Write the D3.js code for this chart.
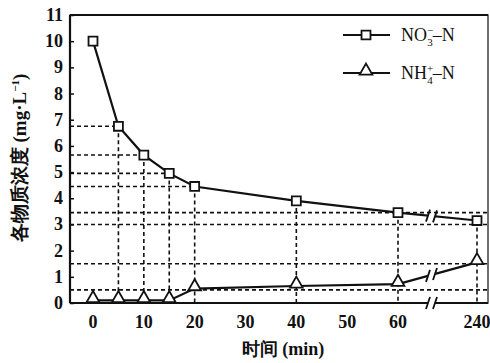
<!DOCTYPE html>
<html>
<head>
<meta charset="utf-8">
<script src="https://cdn.jsdelivr.net/npm/d3@7"></script>
<style>
  body { margin: 0; background: #fff; }
  text { font-family: "Liberation Serif", "DejaVu Serif", serif; fill: #111; }
</style>
</head>
<body>
<div id="main"></div>
<script>
// data
var times = [0, 5, 10, 15, 20, 40, 60, 240];
var no3 = [10.0, 6.75, 5.65, 4.95, 4.45, 3.9, 3.45, 3.15];
var nh4 = [0.1, 0.1, 0.1, 0.1, 0.55, 0.65, 0.72, 1.55];
var xTicks = [0, 10, 20, 30, 40, 50, 60, 240];
var yTicks = [0, 1, 2, 3, 4, 5, 6, 7, 8, 9, 10, 11];
var shortGuideTimes = [5, 10, 15, 20];      // horizontal guide to NO3 point
var fullGuides = [3.45, 3.0, 1.5, 0.5];     // horizontal guides across the plot

var svg = d3.select("#main").append("svg")
  .attr("width", 490)
  .attr("height", 363);

var pLeft = 70, pRight = 488, pTop = 15, pBottom = 303;

// broken x axis: 0..60 linear, then jump to 240
var x = d3.scaleLinear().domain([0, 60, 240]).range([93, 398, 477]);
var y = d3.scaleLinear().domain([0, 11]).range([pBottom, pTop]);

var dash = "4,3";

// horizontal guides
shortGuideTimes.forEach(function(t) {
  var v = no3[times.indexOf(t)];
  svg.append("line")
    .attr("x1", pLeft).attr("x2", x(t))
    .attr("y1", y(v)).attr("y2", y(v))
    .attr("stroke", "#111").attr("stroke-width", 1.6)
    .attr("stroke-dasharray", dash);
});
fullGuides.forEach(function(v) {
  svg.append("line")
    .attr("x1", pLeft).attr("x2", pRight)
    .attr("y1", y(v)).attr("y2", y(v))
    .attr("stroke", "#111").attr("stroke-width", 1.6)
    .attr("stroke-dasharray", dash);
});

// vertical guides from NO3 points down to the axis
times.forEach(function(t, i) {
  if (t === 0) return;
  svg.append("line")
    .attr("x1", x(t)).attr("x2", x(t))
    .attr("y1", y(no3[i])).attr("y2", pBottom)
    .attr("stroke", "#111").attr("stroke-width", 1.6)
    .attr("stroke-dasharray", dash);
});

// frame
svg.append("rect")
  .attr("x", pLeft).attr("y", pTop)
  .attr("width", pRight - pLeft).attr("height", pBottom - pTop)
  .attr("fill", "none").attr("stroke", "#111").attr("stroke-width", 1.2);
svg.append("line")
  .attr("x1", pLeft).attr("x2", pLeft).attr("y1", pTop).attr("y2", pBottom)
  .attr("stroke", "#111").attr("stroke-width", 2.2);
svg.append("line")
  .attr("x1", pLeft).attr("x2", pRight).attr("y1", pBottom).attr("y2", pBottom)
  .attr("stroke", "#111").attr("stroke-width", 2.2);
svg.append("line")
  .attr("x1", pLeft).attr("x2", pRight).attr("y1", pTop).attr("y2", pTop)
  .attr("stroke", "#111").attr("stroke-width", 2);

// y axis: inward ticks and labels
var yAxis = svg.append("g").attr("transform", "translate(" + pLeft + ",0)")
  .call(d3.axisRight(y).tickValues(yTicks).tickSize(4).tickFormat(""));
yAxis.select(".domain").remove();
yAxis.selectAll("line").attr("stroke", "#111").attr("stroke-width", 1.5);

svg.selectAll(".ylab").data(yTicks).enter().append("text")
  .attr("class", "ylab")
  .attr("x", 63)
  .attr("y", function(d) { return y(d) + 6; })
  .attr("text-anchor", "end")
  .attr("font-size", 18)
  .attr("font-weight", "bold")
  .text(function(d) { return d; });

svg.selectAll(".xlab").data(xTicks).enter().append("text")
  .attr("class", "xlab")
  .attr("x", function(d) { return x(d); })
  .attr("y", 328)
  .attr("text-anchor", "middle")
  .attr("font-size", 18)
  .attr("font-weight", "bold")
  .text(function(d) { return d; });

// lines
var line = d3.line()
  .x(function(d) { return x(d[0]); })
  .y(function(d) { return y(d[1]); });

var seriesList = [
  { name: "no3", values: no3, shape: "square" },
  { name: "nh4", values: nh4, shape: "triangle" }
];

seriesList.forEach(function(s) {
  var pts = times.map(function(t, i) { return [t, s.values[i]]; });
  svg.append("path")
    .datum(pts)
    .attr("d", line)
    .attr("fill", "none")
    .attr("stroke", "#111")
    .attr("stroke-width", 2.2);
});

// axis break marks ( // ) between 60 and 240
var bx1 = 428, bx2 = 435;
function breakMark(px, py) {
  svg.append("line")
    .attr("x1", px - 2).attr("x2", px + 2)
    .attr("y1", py + 6).attr("y2", py - 6)
    .attr("stroke", "#111").attr("stroke-width", 1.8);
}
function valueAt(vals, px) {
  var i0 = times.indexOf(60), i1 = times.indexOf(240);
  var f = (px - x(60)) / (x(240) - x(60));
  return y(vals[i0] + f * (vals[i1] - vals[i0]));
}
seriesList.forEach(function(s) {
  var ya = valueAt(s.values, bx1), yb = valueAt(s.values, bx2);
  svg.append("line")
    .attr("x1", bx1).attr("x2", bx2).attr("y1", ya).attr("y2", yb)
    .attr("stroke", "#fff").attr("stroke-width", 5);
  breakMark(bx1, ya);
  breakMark(bx2, yb);
});
svg.append("line")
  .attr("x1", bx1).attr("x2", bx2).attr("y1", pBottom).attr("y2", pBottom)
  .attr("stroke", "#fff").attr("stroke-width", 4);
breakMark(bx1, pBottom);
breakMark(bx2, pBottom);

// markers
var sym = {
  square: d3.symbol().type(d3.symbolSquare).size(80),
  triangle: d3.symbol().type(d3.symbolTriangle).size(70)
};
seriesList.forEach(function(s) {
  svg.selectAll(".m-" + s.name).data(times).enter().append("path")
    .attr("class", "m-" + s.name)
    .attr("d", sym[s.shape])
    .attr("transform", function(t, i) {
      return "translate(" + x(t) + "," + (y(s.values[i]) - (s.shape === "triangle" ? 2 : 0)) + ")";
    })
    .attr("fill", "#fff")
    .attr("stroke", "#111")
    .attr("stroke-width", 1.8);
});

// legend
var legend = svg.append("g");
var legendRows = [
  { shape: "square", y: 35, main: "NO", sub: "3", sup: "\u2212", tail: "\u2013N" },
  { shape: "triangle", y: 73, main: "NH", sub: "4", sup: "+", tail: "\u2013N" }
];
legendRows.forEach(function(r) {
  legend.append("line")
    .attr("x1", 343).attr("x2", 390).attr("y1", r.y).attr("y2", r.y)
    .attr("stroke", "#111").attr("stroke-width", 2.2);
  legend.append("path")
    .attr("d", sym[r.shape])
    .attr("transform", "translate(366," + (r.y - (r.shape === "triangle" ? 2 : 0)) + ")")
    .attr("fill", "#fff").attr("stroke", "#111").attr("stroke-width", 1.8);
  var t = legend.append("text")
    .attr("x", 401).attr("y", r.y + 6)
    .attr("font-size", 18);
  t.append("tspan").text(r.main);
  t.append("tspan").attr("font-size", 11).attr("dy", -7).text(r.sup);
  t.append("tspan").attr("font-size", 11).attr("dx", -6).attr("dy", 12).text(r.sub);
  t.append("tspan").attr("dy", -5).text(r.tail);
});

// axis titles
var yTitle = svg.append("text")
  .attr("transform", "translate(26,158) rotate(-90)")
  .attr("text-anchor", "middle")
  .attr("font-size", 19)
  .attr("font-weight", "bold");
yTitle.append("tspan").text("各物质浓度 (mg·L");
yTitle.append("tspan").attr("font-size", 11).attr("dy", -7).text("\u22121");
yTitle.append("tspan").attr("dy", 7).text(")");

svg.append("text")
  .attr("x", 283).attr("y", 355)
  .attr("text-anchor", "middle")
  .attr("font-size", 18)
  .attr("font-weight", "bold")
  .text("时间 (min)");
</script>
</body>
</html>
